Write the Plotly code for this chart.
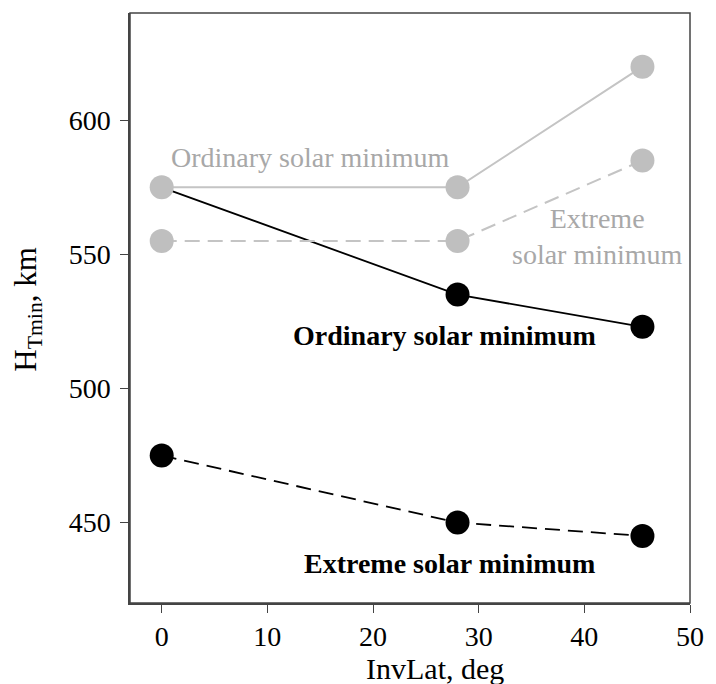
import plotly.graph_objects as go

invlat = [0, 28, 45.5]
gray_ordinary = [575, 575, 620]
gray_extreme = [555, 555, 585]
black_ordinary = [575, 535, 523]
black_extreme = [475, 450, 445]

GRAY_LINE = "#c4c4c4"
GRAY_MARK = "#bfbfbf"
GRAY_TEXT = "#a8a8a8"
FONT = "Liberation Serif"

fig = go.Figure()

# black ordinary line (starts at gray marker, no black marker at 0)
fig.add_trace(go.Scatter(x=invlat, y=black_ordinary, mode="lines",
                         line=dict(color="black", width=1.8), showlegend=False))
fig.add_trace(go.Scatter(x=invlat[1:], y=black_ordinary[1:], mode="markers",
                         marker=dict(color="black", size=24), showlegend=False))
# black extreme
fig.add_trace(go.Scatter(x=invlat, y=black_extreme, mode="lines+markers",
                         line=dict(color="black", width=1.8, dash="15px,8px"),
                         marker=dict(color="black", size=24), showlegend=False))
# gray ordinary
fig.add_trace(go.Scatter(x=invlat, y=gray_ordinary, mode="lines+markers",
                         line=dict(color=GRAY_LINE, width=2),
                         marker=dict(color=GRAY_MARK, size=24), showlegend=False))
# gray extreme
fig.add_trace(go.Scatter(x=invlat, y=gray_extreme, mode="lines+markers",
                         line=dict(color=GRAY_LINE, width=2, dash="15px,8px"),
                         marker=dict(color=GRAY_MARK, size=24), showlegend=False))

annotations = [
    dict(x=14.05, y=586.3, xref="x", yref="y", text="Ordinary solar minimum",
         showarrow=False, font=dict(family=FONT, size=28, color=GRAY_TEXT)),
    dict(x=41.24, y=556.5, xref="x", yref="y", text="Extreme<br>solar minimum",
         showarrow=False, font=dict(family=FONT, size=28, color=GRAY_TEXT)),
    dict(x=26.76, y=519.9, xref="x", yref="y", text="<b>Ordinary solar minimum</b>",
         showarrow=False, font=dict(family=FONT, size=28, color="black")),
    dict(x=27.27, y=434.9, xref="x", yref="y", text="<b>Extreme solar minimum</b>",
         showarrow=False, font=dict(family=FONT, size=28, color="black")),
    dict(x=-104/569, y=(603-309)/590, xref="paper", yref="paper", textangle=-90,
         text="H<sub>Tmin</sub>, km", showarrow=False, xanchor="center", yanchor="middle",
         font=dict(family=FONT, size=31, color="black")),
    dict(x=0.545, y=-0.080, xref="paper", yref="paper", text="InvLat, deg",
         showarrow=False, xanchor="center", yanchor="top",
         font=dict(family=FONT, size=30, color="black")),
]

axis_common = dict(showgrid=False, zeroline=False, showline=True, linecolor="#444",
                   linewidth=1.5, ticks="outside", ticklen=8, tickcolor="#444",
                   tickfont=dict(family=FONT, size=28, color="black"), mirror=False)

fig.update_layout(
    width=716, height=684,
    margin=dict(l=130, r=17, t=13, b=81),
    plot_bgcolor="white", paper_bgcolor="white",
    xaxis=dict(range=[-3, 50], tickvals=[0, 10, 20, 30, 40, 50], **axis_common),
    yaxis=dict(range=[420, 640], tickvals=[450, 500, 550, 600], ticklabelstandoff=4,
               **axis_common),
    annotations=annotations,
    shapes=[dict(type="rect", xref="paper", yref="paper", x0=0, y0=0, x1=1, y1=1,
                 line=dict(color="#444", width=1.5))],
)

fig.write_html("out.html")
